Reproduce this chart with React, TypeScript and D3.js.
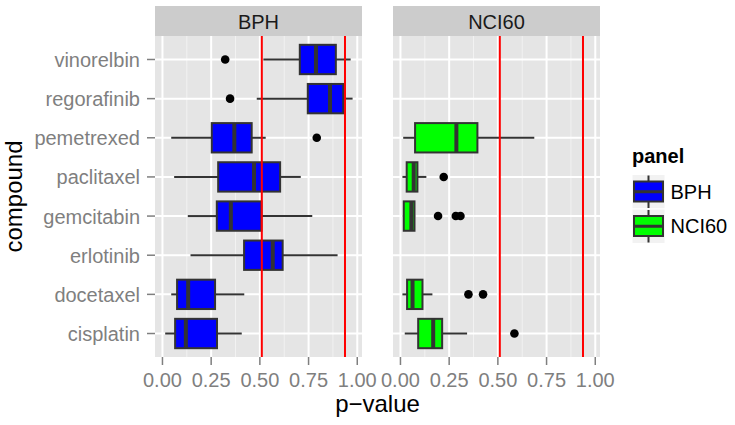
import React from "react";
import * as d3 from "d3";

// compounds, top to bottom
const compounds = [
  "vinorelbin",
  "regorafinib",
  "pemetrexed",
  "paclitaxel",
  "gemcitabin",
  "erlotinib",
  "docetaxel",
  "cisplatin",
];

const panels = ["BPH", "NCI60"];
const panelColors = ["#0000FF", "#00FF00"];

// [lower whisker, q1, median, q3, upper whisker] per compound
const bphStats = [
  [0.518, 0.705, 0.788, 0.89, 0.966],
  [0.484, 0.746, 0.86, 0.928, 0.976],
  [0.045, 0.253, 0.369, 0.458, 0.53],
  [0.06, 0.286, 0.47, 0.604, 0.71],
  [0.13, 0.279, 0.351, 0.508, 0.769],
  [0.144, 0.419, 0.566, 0.617, 0.899],
  [0.045, 0.075, 0.132, 0.27, 0.42],
  [0.014, 0.065, 0.12, 0.28, 0.407],
];
const bphOutliers = [[0.322], [0.347], [0.792], [], [], [], [], []];

const nciStats = [
  null,
  null,
  [0.014, 0.075, 0.287, 0.395, 0.687],
  [0.01, 0.032, 0.068, 0.087, 0.133],
  [0.012, 0.017, 0.056, 0.072, 0.075],
  null,
  [0.01, 0.034, 0.062, 0.113, 0.164],
  [0.022, 0.091, 0.168, 0.214, 0.342],
];
const nciOutliers = [[], [], [], [0.222], [0.193, 0.284, 0.308], [], [0.349, 0.424], [0.585]];

const cutoffs = [0.51, 0.937];
const xTicks = [0, 0.25, 0.5, 0.75, 1];
const xTickLabels = ["0.00", "0.25", "0.50", "0.75", "1.00"];
const xMinor = [0.125, 0.375, 0.625, 0.875];

const font = "'Liberation Sans', Arial, sans-serif";
const grey50 = "#7F7F7F";
const boxLine = "#333333";

const panelTop = 36;
const panelBottom = 357;
const panelX = [
  [155, 362],
  [393, 600],
];

export default function App() {
  const allStats = [...bphStats, ...nciStats].filter((s) => s) as number[][];
  const allVals = [
    ...allStats.flat(),
    ...bphOutliers.flat(),
    ...nciOutliers.flat(),
  ];
  const [lo, hi] = d3.extent(allVals) as [number, number];
  const pad = (hi - lo) * 0.05;

  const y = d3
    .scalePoint<string>()
    .domain(compounds)
    .range([panelTop, panelBottom])
    .padding(0.6);
  const boxH = y.step() * 0.75;

  const series = [
    { stats: bphStats, outliers: bphOutliers },
    { stats: nciStats, outliers: nciOutliers },
  ];

  return (
    <svg width={735} height={425} style={{ display: "block", position: "absolute", left: 0, top: 0 }}>
      <rect width={735} height={425} fill="#fff" />
      {panels.map((p, pi) => {
        const [x0, x1] = panelX[pi];
        const x = d3.scaleLinear().domain([lo - pad, hi + pad]).range([x0, x1]);
        const { stats, outliers } = series[pi];
        return (
          <g key={p}>
            {/* strip */}
            <rect x={x0} y={6} width={x1 - x0} height={panelTop - 6} fill="#CCCCCC" />
            <text x={(x0 + x1) / 2} y={29} textAnchor="middle" fontFamily={font} fontSize={20} fill="#1A1A1A">
              {p}
            </text>
            {/* panel */}
            <rect x={x0} y={panelTop} width={x1 - x0} height={panelBottom - panelTop} fill="#E5E5E5" />
            {xMinor.map((v) => (
              <line key={"m" + v} x1={x(v)} x2={x(v)} y1={panelTop} y2={panelBottom} stroke="#F2F2F2" strokeWidth={1} />
            ))}
            {xTicks.map((v) => (
              <line key={"g" + v} x1={x(v)} x2={x(v)} y1={panelTop} y2={panelBottom} stroke="#fff" strokeWidth={2} />
            ))}
            {compounds.map((c) => (
              <line key={"gy" + c} x1={x0} x2={x1} y1={y(c)} y2={y(c)} stroke="#fff" strokeWidth={2} />
            ))}
            {/* boxes */}
            {compounds.map((c, i) => {
              const s = stats[i];
              if (!s) return null;
              const cy = y(c) as number;
              return (
                <g key={"b" + c}>
                  <line x1={x(s[0])} x2={x(s[1])} y1={cy} y2={cy} stroke={boxLine} strokeWidth={2} />
                  <line x1={x(s[3])} x2={x(s[4])} y1={cy} y2={cy} stroke={boxLine} strokeWidth={2} />
                  <rect
                    x={x(s[1])}
                    y={cy - boxH / 2}
                    width={x(s[3]) - x(s[1])}
                    height={boxH}
                    fill={panelColors[pi]}
                    stroke={boxLine}
                    strokeWidth={2}
                  />
                  <line x1={x(s[2])} x2={x(s[2])} y1={cy - boxH / 2} y2={cy + boxH / 2} stroke={boxLine} strokeWidth={4} />
                  {outliers[i].map((o, k) => (
                    <circle key={k} cx={x(o)} cy={cy} r={4.3} fill="#000" />
                  ))}
                </g>
              );
            })}
            {/* cutoffs */}
            {cutoffs.map((v) => (
              <line key={"r" + v} x1={x(v)} x2={x(v)} y1={panelTop} y2={panelBottom} stroke="#FF0000" strokeWidth={2} />
            ))}
            {/* x axis */}
            {xTicks.map((v, k) => (
              <g key={"t" + v}>
                <line x1={x(v)} x2={x(v)} y1={panelBottom} y2={panelBottom + 8} stroke={grey50} strokeWidth={1.5} />
                <text x={x(v)} y={387} textAnchor="middle" fontFamily={font} fontSize={20} fill={grey50}>
                  {xTickLabels[k]}
                </text>
              </g>
            ))}
          </g>
        );
      })}
      {/* y axis */}
      {compounds.map((c) => (
        <g key={"yl" + c}>
          <line x1={147} x2={155} y1={y(c)} y2={y(c)} stroke={grey50} strokeWidth={1.5} />
          <text x={140} y={(y(c) as number) + 7.5} textAnchor="end" fontFamily={font} fontSize={20} fill={grey50}>
            {c}
          </text>
        </g>
      ))}
      <text x={377.5} y={412} textAnchor="middle" fontFamily={font} fontSize={24} fill="#000">
        p−value
      </text>
      <text
        transform={`translate(21.5,${(panelTop + panelBottom) / 2}) rotate(-90)`}
        textAnchor="middle"
        fontFamily={font}
        fontSize={24}
        fill="#000"
      >
        compound
      </text>
      {/* legend */}
      <text x={632} y={163} fontFamily={font} fontSize={20} fontWeight="bold" fill="#000">
        panel
      </text>
      {panels.map((p, pi) => {
        const ky = 174.5 + pi * 34.5;
        return (
          <g key={"lg" + p}>
            <rect x={632} y={ky} width={33} height={34.5} fill="#F2F2F2" stroke="#fff" strokeWidth={1} />
            <line x1={648.5} x2={648.5} y1={ky + 1} y2={ky + 33.5} stroke={boxLine} strokeWidth={2} />
            <rect x={634} y={ky + 7} width={29} height={20} fill={panelColors[pi]} stroke={boxLine} strokeWidth={2} />
            <line x1={634} x2={663} y1={ky + 17.25} y2={ky + 17.25} stroke={boxLine} strokeWidth={3} />
            <text x={670.5} y={ky + 24} fontFamily={font} fontSize={20} fill="#000">
              {p}
            </text>
          </g>
        );
      })}
    </svg>
  );
}
